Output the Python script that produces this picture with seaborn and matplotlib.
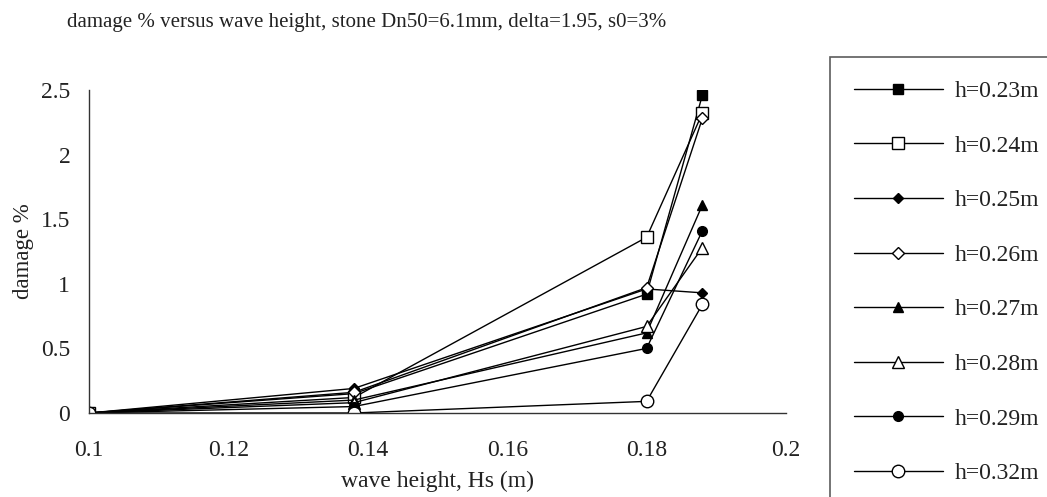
import numpy as np
import pandas as pd
import matplotlib
matplotlib.use("Agg")
import matplotlib.pyplot as plt
import seaborn as sns

sns.set_style("white")
plt.rcParams["font.family"] = ["Liberation Serif", "DejaVu Serif"]

# wave height Hs (m)
wave_height = [0.1, 0.138, 0.18, 0.188]
# damage % for each water depth
h023 = [0, 0.15, 0.92, 2.46]
h024 = [0, 0.12, 1.36, 2.32]
h025 = [0, 0.19, 0.96, 0.93]
h026 = [0, 0.16, 0.97, 2.28]
h027 = [0, 0.10, 0.62, 1.61]
h028 = [0, 0.08, 0.67, 1.28]
h029 = [0, 0.05, 0.50, 1.41]
h032 = [0, 0.00, 0.09, 0.84]

labels = ["h=0.23m", "h=0.24m", "h=0.25m", "h=0.26m",
          "h=0.27m", "h=0.28m", "h=0.29m", "h=0.32m"]
series = [h023, h024, h025, h026, h027, h028, h029, h032]

# (marker, filled, size)
styles = [("s", True, 6.5), ("s", False, 8.5), ("D", True, 5), ("D", False, 6.5),
          ("^", True, 7), ("^", False, 9), ("o", True, 7), ("o", False, 9)]

fig = plt.figure(figsize=(10.47, 4.97), dpi=100)
ax = fig.add_axes([89 / 1047, 1 - 413 / 497, (786 - 89) / 1047, (413 - 90) / 497])

for vals, lab, (mk, filled, ms) in zip(series, labels, styles):
    df = pd.DataFrame({"Hs": wave_height, "damage": vals})
    sns.lineplot(data=df, x="Hs", y="damage", ax=ax, color="black", lw=1,
                 marker=mk, markersize=ms, markeredgecolor="black",
                 markerfacecolor="black" if filled else "white",
                 markeredgewidth=1, label=lab)

ax.set_xlim(0.1, 0.2)
ax.set_ylim(0, 2.5)
ax.set_xticks([0.1, 0.12, 0.14, 0.16, 0.18, 0.2])
ax.set_xticklabels(["0.1", "0.12", "0.14", "0.16", "0.18", "0.2"])
ax.set_yticks([0, 0.5, 1, 1.5, 2, 2.5])
ax.set_yticklabels(["0", "0.5", "1", "1.5", "2", "2.5"])
for s in ["top", "right"]:
    ax.spines[s].set_visible(False)
for s in ["left", "bottom"]:
    ax.spines[s].set_color("#333333")
    ax.spines[s].set_linewidth(1)
ax.tick_params(axis="both", direction="inout", length=7, width=1, color="#333333",
               labelsize=17, labelcolor="#222222")
ax.tick_params(axis="x", pad=16)
ax.tick_params(axis="y", pad=10)
ax.set_xlabel("wave height, Hs (m)", fontsize=17, color="#222222", labelpad=7)
ax.set_ylabel("damage %", fontsize=16.5, color="#222222", labelpad=5)

fig.text(67 / 1047, 1 - 22 / 497, "damage % versus wave height, stone Dn50=6.1mm, delta=1.95, s0=3%",
         fontsize=15, color="#222222", ha="left", va="center")

handles, labs = ax.get_legend_handles_labels()
ax.get_legend().remove()
leg = fig.legend(handles, labs, loc="upper left", bbox_to_anchor=(830 / 1047, 1 - 57 / 497),
                 frameon=True, fancybox=False, fontsize=17, handlelength=3.8,
                 labelspacing=1.4, borderpad=1.0, handletextpad=0.5, borderaxespad=0)
leg.get_frame().set_edgecolor("#333333")
leg.get_frame().set_linewidth(1.2)
for t in leg.get_texts():
    t.set_color("#222222")

fig.savefig("out.png", dpi=100)
